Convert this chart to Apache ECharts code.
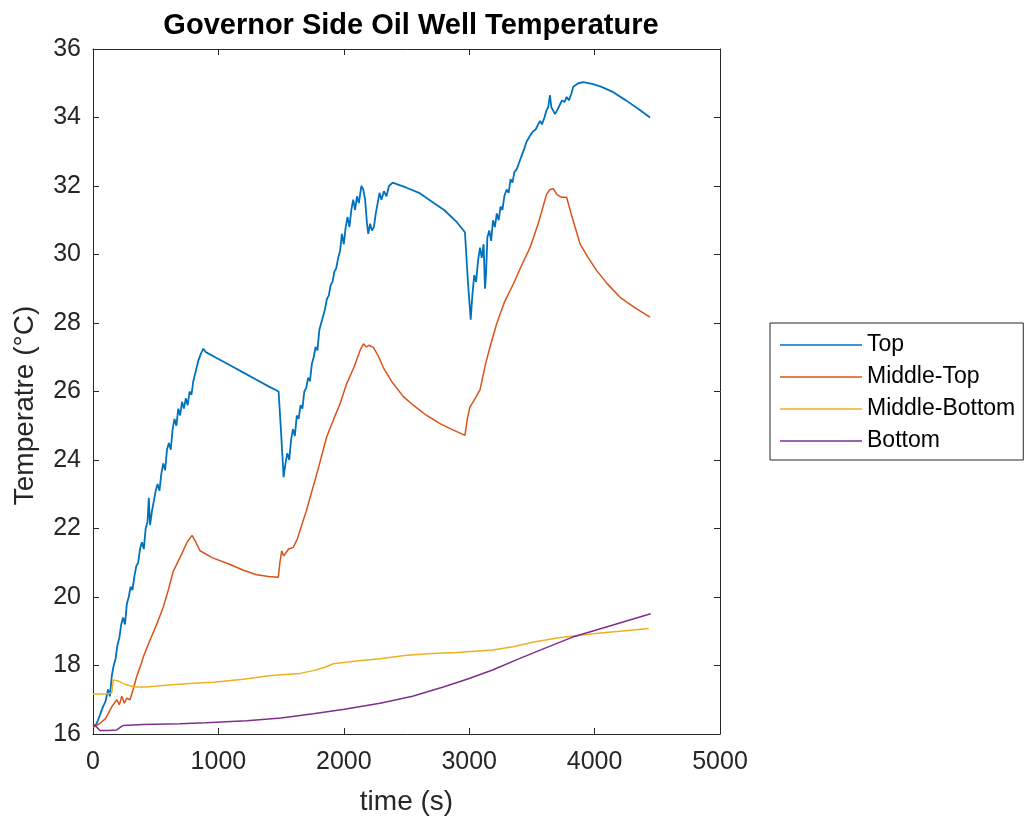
<!DOCTYPE html>
<html>
<head>
<meta charset="utf-8">
<script src="https://cdn.jsdelivr.net/npm/echarts@6/dist/echarts.min.js"></script>
<style>html,body{margin:0;padding:0;background:#fff}#c{width:1028px;height:822px}</style>
</head>
<body>
<div id="c"></div>
<script>
const seriesNames = ['Top', 'Middle-Top', 'Middle-Bottom', 'Bottom'];
const xTicks = [0, 1000, 2000, 3000, 4000, 5000];
const yTicks = [16, 18, 20, 22, 24, 26, 28, 30, 32, 34, 36];

const topData = [
  [0,16.2],[20,16.25],[40,16.4],[60,16.6],[80,16.8],[100,16.95],[120,17.3],[135,17.1],[150,17.7],
  [165,18.0],[180,18.2],[195,18.6],[210,18.8],[225,19.2],[240,19.4],[255,19.2],[270,19.8],[285,20.0],
  [300,20.3],[315,20.2],[330,20.6],[345,20.9],[360,21.0],[375,21.4],[390,21.6],[405,21.4],[420,22.0],
  [435,22.2],[445,22.9],[455,22.1],[470,22.5],[485,22.8],[500,23.1],[515,23.3],[530,23.1],[545,23.6],
  [560,23.9],[575,23.7],[590,24.3],[605,24.5],[620,24.3],[635,24.9],[650,25.2],[665,25.0],[680,25.5],
  [695,25.3],[710,25.7],[725,25.5],[740,25.8],[755,25.6],[770,26.0],[785,25.9],[800,26.3],[820,26.6],
  [840,26.9],[860,27.1],[880,27.25],[900,27.15],
  [1000,26.95],[1100,26.75],[1200,26.55],[1300,26.35],[1400,26.15],[1480,26.0],[1500,24.8],[1520,23.5],
  [1535,23.9],[1550,24.2],[1565,24.0],[1580,24.6],[1595,24.9],[1610,24.7],[1625,25.3],[1640,25.2],
  [1655,25.6],[1670,25.5],[1685,26.0],[1700,26.1],[1715,26.4],[1730,26.3],[1745,26.8],[1760,27.0],
  [1775,27.3],[1790,27.2],[1805,27.8],[1820,28.0],[1835,28.2],[1850,28.4],[1865,28.7],[1880,28.8],
  [1895,29.1],[1910,29.2],[1925,29.5],[1940,29.6],[1955,29.9],[1970,30.1],[1985,30.6],[2000,30.3],
  [2015,30.8],[2030,31.1],[2045,30.8],[2060,31.3],[2075,31.6],[2090,31.3],[2105,31.7],[2120,31.5],
  [2140,32.0],[2155,31.9],[2170,31.6],[2185,30.9],[2195,30.6],[2210,30.9],[2225,30.7],[2240,30.8],
  [2255,31.2],[2270,31.5],[2285,31.8],[2300,31.6],[2320,31.85],[2340,31.7],[2360,32.0],[2390,32.1],
  [2500,31.95],[2600,31.8],[2700,31.55],[2800,31.3],[2900,30.95],[2966,30.65],[2990,29.2],[3012,28.1],
  [3025,28.8],[3040,29.4],[3055,29.2],[3070,29.8],[3086,30.2],[3100,29.9],[3115,30.3],[3126,29.0],
  [3135,29.5],[3145,30.5],[3160,30.7],[3175,30.4],[3190,31.0],[3205,30.8],[3220,31.2],[3235,31.0],
  [3250,31.4],[3265,31.3],[3280,31.7],[3299,31.9],[3315,31.8],[3330,32.2],[3345,32.1],[3360,32.4],
  [3380,32.5],[3405,32.75],[3420,32.9],[3440,33.1],[3458,33.3],[3475,33.4],[3490,33.5],[3510,33.6],
  [3530,33.65],[3550,33.8],[3565,33.9],[3580,33.8],[3600,34.0],[3615,34.2],[3630,34.3],[3644,34.65],
  [3655,34.3],[3670,34.2],[3684,34.1],[3700,34.2],[3720,34.35],[3740,34.5],[3760,34.45],[3777,34.6],
  [3795,34.5],[3815,34.7],[3830,34.9],[3850,34.95],[3870,35.0],[3910,35.03],[3980,34.98],[4050,34.9],
  [4149,34.74],[4250,34.5],[4350,34.25],[4442,34.0]
];
const middleTopData = [
  [0,16.2],[50,16.3],[100,16.45],[150,16.8],[190,17.0],[210,16.85],[230,17.1],[250,16.9],[270,17.05],
  [295,17.0],[320,17.3],[350,17.7],[380,18.0],[401,18.25],[450,18.7],[508,19.2],[560,19.7],[600,20.2],
  [640,20.75],[700,21.2],[750,21.6],[790,21.8],[820,21.6],[853,21.35],[950,21.15],[1093,20.95],
  [1200,20.78],[1305,20.65],[1400,20.6],[1478,20.58],[1490,21.0],[1505,21.35],[1520,21.2],[1560,21.4],
  [1597,21.45],[1630,21.7],[1651,21.94],[1700,22.5],[1731,22.9],[1800,23.8],[1863,24.67],[1920,25.2],
  [1970,25.64],[2020,26.2],[2080,26.7],[2130,27.2],[2156,27.39],[2180,27.3],[2200,27.35],[2236,27.29],
  [2280,27.0],[2315,26.7],[2380,26.3],[2475,25.85],[2554,25.6],[2661,25.3],[2767,25.06],[2870,24.88],
  [2966,24.72],[2985,25.2],[3006,25.55],[3040,25.75],[3086,26.05],[3130,26.8],[3166,27.3],[3219,27.98],
  [3280,28.6],[3352,29.14],[3420,29.7],[3485,30.2],[3550,30.9],[3618,31.77],[3645,31.9],[3671,31.92],
  [3700,31.75],[3737,31.67],[3777,31.67],[3820,31.1],[3884,30.31],[3950,29.9],[4017,29.53],[4100,29.15],
  [4203,28.75],[4320,28.45],[4442,28.17]
];
const middleBottomData = [
  [0,17.17],[100,17.17],[150,17.2],[162,17.58],[200,17.55],[242,17.47],[300,17.4],[348,17.37],[428,17.37],
  [600,17.43],[800,17.48],[959,17.51],[1200,17.6],[1400,17.7],[1500,17.73],[1650,17.77],[1757,17.85],
  [1850,17.95],[1916,18.05],[2100,18.13],[2289,18.2],[2484,18.29],[2700,18.35],[2900,18.38],[3186,18.45],
  [3350,18.55],[3506,18.68],[3700,18.8],[3984,18.93],[4200,19.0],[4431,19.08]
];
const bottomData = [
  [0,16.3],[30,16.2],[56,16.1],[120,16.1],[189,16.12],[220,16.2],[242,16.25],[400,16.28],[694,16.3],
  [900,16.33],[1226,16.39],[1500,16.47],[1757,16.59],[2005,16.72],[2289,16.9],[2548,17.1],[2800,17.38],
  [3000,17.62],[3186,17.87],[3400,18.2],[3600,18.5],[3825,18.83],[4000,19.02],[4200,19.24],[4447,19.51]
];

const colors = ['#0072BD', '#D95319', '#EDB120', '#7E2F8E'];
const FONT = 'Liberation Sans, Arial, Helvetica, sans-serif';
const TXT = '#262626';

const chart = echarts.init(document.getElementById('c'), null, {renderer: 'canvas'});
const allData = [topData, middleTopData, middleBottomData, bottomData];

const xBase = {
  type: 'value', min: xTicks[0], max: xTicks[xTicks.length - 1], interval: 1000,
  axisLine: {show: true, onZero: false, lineStyle: {color: TXT, width: 1}},
  axisTick: {show: true, inside: true, length: 6, lineStyle: {color: TXT}},
  splitLine: {show: false}
};
const yBase = {
  type: 'value', min: yTicks[0], max: yTicks[yTicks.length - 1], interval: 2,
  axisLine: {show: true, onZero: false, lineStyle: {color: TXT, width: 1}},
  axisTick: {show: true, inside: true, length: 6, lineStyle: {color: TXT}},
  splitLine: {show: false}
};

chart.setOption({
  animation: false,
  color: colors,
  title: {
    text: 'Governor Side Oil Well Temperature',
    left: 406, top: 6, textAlign: 'center',
    textStyle: {fontFamily: FONT, fontSize: 29, fontWeight: 'bold', color: '#000'}
  },
  grid: {left: 93, right: 308, top: 49, bottom: 88, containLabel: false},
  legend: {
    orient: 'vertical', left: 770, top: 323,
    padding: [10, 8, 7, 10], itemGap: 8,
    itemWidth: 82, itemHeight: 1.5, icon: 'rect',
    borderColor: TXT, borderWidth: 1,
    textStyle: {fontFamily: FONT, fontSize: 23, color: '#000', lineHeight: 24},
    data: seriesNames
  },
  xAxis: [
    Object.assign({}, xBase, {
      position: 'bottom', name: 'time (s)', nameLocation: 'middle', nameGap: 54,
      nameTextStyle: {fontFamily: FONT, fontSize: 28, color: TXT},
      axisLabel: {fontFamily: FONT, fontSize: 25, color: TXT, margin: 16, formatter: v => String(v)}
    }),
    Object.assign({}, xBase, {position: 'top', axisLabel: {show: false}})
  ],
  yAxis: [
    Object.assign({}, yBase, {
      position: 'left', name: 'Temperatre (°C)', nameLocation: 'middle', nameGap: 54,
      nameTextStyle: {fontFamily: FONT, fontSize: 28, color: TXT, padding: [0, 28, 0, 0]},
      axisLabel: {fontFamily: FONT, fontSize: 25, color: TXT, margin: 12, formatter: v => String(v)}
    }),
    Object.assign({}, yBase, {position: 'right', axisLabel: {show: false}})
  ],
  series: seriesNames.map((n, i) => ({
    name: n, type: 'line', data: allData[i], xAxisIndex: 0, yAxisIndex: 0,
    symbol: 'none', showSymbol: false, smooth: false,
    lineStyle: {width: i === 0 ? 1.8 : 1.5, color: colors[i]}, itemStyle: {color: colors[i]}
  }))
});
</script>
</body>
</html>
